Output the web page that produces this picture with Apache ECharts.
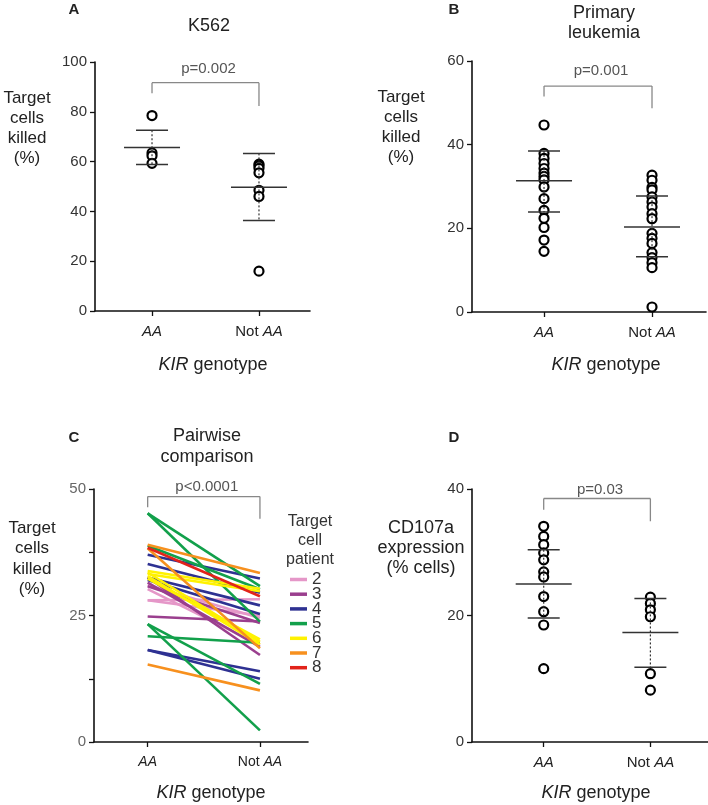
<!DOCTYPE html>
<html>
<head>
<meta charset="utf-8">
<script src="https://cdn.jsdelivr.net/npm/echarts@6/dist/echarts.min.js"></script>
<style>html,body{margin:0;padding:0;background:#fff;}#c{width:708px;height:805px;}</style>
</head>
<body>
<div id="c"></div>
<script>
// ---------- DATA ----------
const groups = ['AA', 'Not AA'];
// Panel A: K562
const aAA = [78.5, 63.5, 62.3, 59.3];
const aNot = [59, 58.3, 57.3, 55.5, 48.5, 46, 16];
const aMean = [65.7, 49.7];
const aUpper = [72.6, 63.3];
const aLower = [58.8, 36.3];
const aTicks = [0, 20, 40, 60, 80, 100];
const aBracket = [91.7, 87.5, 82.3];
const aP = 'p=0.002';
// Panel B: primary leukemia
const bAA = [44.7, 37.9, 36.7, 35.5, 34.3, 33.2, 32.4, 31.6, 29.9, 27.1, 24.3, 22.4, 20.2, 17.2, 14.5];
const bNot = [32.7, 31.5, 29.8, 29.2, 27.5, 26.3, 25.1, 23.5, 22.3, 18.8, 17.6, 16.4, 14.2, 13, 11.8, 10.6, 1.2];
const bMean = [31.4, 20.3];
const bUpper = [38.5, 27.7];
const bLower = [23.9, 13.2];
const bTicks = [0, 20, 40, 60];
const bBracket = [54, 51.5, 48.7];
const bP = 'p=0.001';
// Panel C: pairwise comparison (AA value, Not AA value) per target-cell patient
const cPatients = ['2', '3', '4', '5', '6', '7', '8'];
const c2AA = [31, 30.2, 28, 28];          const c2Not = [24.5, 19.2, 28.2, 25];
const c3AA = [32.5, 31.5, 30.8, 24.8];    const c3Not = [17.2, 18.8, 23.5, 23.8];
const c4AA = [37, 35.2, 32.5, 32, 18.2, 18.2];   const c4Not = [32.3, 29.5, 27, 25.3, 14, 12.5];
const c5AA = [45.2, 45.2, 38.8, 23.3, 23.3, 20.9]; const c5Not = [30.8, 23.8, 30.2, 2.3, 11.5, 19.6];
const c6AA = [33.8, 33.2, 33.5, 32.8, 32.3];     const c6Not = [30.3, 29.8, 19.8, 19.3, 20.3];
const c7AA = [39, 38.3, 15.3];            const c7Not = [33.4, 18.5, 10.2];
const c8AA = [38.4];                      const c8Not = [28.8];
const cTicks = [0, 12.5, 25, 37.5, 50];
const cTickLabels = ['0', '', '25', '', '50'];
const cBracket = [48.5, 46.4, 44.1];
const cP = 'p<0.0001';
// Panel D: CD107a expression
const dAA = [34.1, 32.5, 31.2, 29.9, 28.8, 26.9, 26.1, 23, 20.6, 18.5, 11.6];
const dNot = [22.9, 21.9, 20.9, 19.8, 10.8, 8.2];
const dMean = [25, 17.3];
const dUpper = [30.4, 22.7];
const dLower = [19.6, 11.8];
const dTicks = [0, 20, 40];
const dBracket = [38.5, 36.7, 34.9];
const dP = 'p=0.03';

// ---------- STYLE ----------
const FONT = '"Liberation Sans", Arial, Helvetica, sans-serif';
const patientColors = ['#e597c8', '#9a3f8e', '#2e3192', '#12a04b', '#fff200', '#f7901e', '#e2231a'];

const chart = echarts.init(document.getElementById('c'), null, {renderer: 'canvas'});

const grids = [
  {left: 95, top: 62, width: 215, height: 249},
  {left: 472, top: 61, width: 234, height: 251},
  {left: 94, top: 489, width: 214, height: 253},
  {left: 472, top: 489, width: 236, height: 253}
];
const xRanges = [[-0.533, 1.477], [-0.667, 1.5], [-0.478, 1.428], [-0.672, 1.54]];
const xFont = [15, 15, 14, 15];
const yConf = [
  {ticks: aTicks, labels: aTicks.map(String), color: '#333', size: 15},
  {ticks: bTicks, labels: bTicks.map(String), color: '#333', size: 15},
  {ticks: cTicks, labels: cTickLabels, color: '#666', size: 15},
  {ticks: dTicks, labels: dTicks.map(String), color: '#333', size: 15}
];

const xAxes = grids.map((g, i) => ({
  type: 'value', gridIndex: i, min: xRanges[i][0], max: xRanges[i][1],
  splitLine: {show: false},
  axisLine: {show: true, onZero: false, lineStyle: {color: '#111', width: 1.6}},
  axisTick: {show: true, customValues: [0, 1], length: 5, lineStyle: {color: '#111', width: 1.3}},
  axisLabel: {
    customValues: [0, 1], margin: 13, fontSize: xFont[i], fontFamily: FONT, color: '#222',
    formatter: v => (Math.round(v) === 0 ? '{i|AA}' : 'Not {i|AA}'),
    rich: {i: {fontStyle: 'italic', fontSize: xFont[i], fontFamily: FONT, color: '#222'}}
  }
}));

const yAxes = yConf.map((c, i) => ({
  type: 'value', gridIndex: i, min: c.ticks[0], max: c.ticks[c.ticks.length - 1],
  interval: c.ticks[1] - c.ticks[0],
  splitLine: {show: false},
  axisLine: {show: true, onZero: false, lineStyle: {color: '#111', width: 1.6}},
  axisTick: {show: true, length: 5, lineStyle: {color: '#111', width: 1.3}},
  axisLabel: {
    margin: 8, fontSize: c.size, fontFamily: FONT, color: c.color,
    formatter: v => { const k = c.ticks.indexOf(v); return k >= 0 ? c.labels[k] : ''; }
  }
}));

function scatterSeries(gi, vals, x) {
  return {
    type: 'scatter', xAxisIndex: gi, yAxisIndex: gi, symbol: 'circle', symbolSize: 9,
    itemStyle: {color: '#fff', borderColor: '#000', borderWidth: 2.2, opacity: 1},
    silent: true, z: 3,
    data: vals.map(v => [x, v])
  };
}

function errorSeries(gi, means, uppers, lowers) {
  return {
    type: 'custom', xAxisIndex: gi, yAxisIndex: gi, z: 5, silent: true,
    data: means.map((m, k) => [k, m, uppers[k], lowers[k]]),
    encode: {x: 0, y: 1},
    renderItem: (params, api) => {
      const x = api.value(0);
      const pm = api.coord([x, api.value(1)]);
      const pu = api.coord([x, api.value(2)]);
      const pl = api.coord([x, api.value(3)]);
      const ls = {stroke: '#333', lineWidth: 1.5};
      return {type: 'group', children: [
        {type: 'line', shape: {x1: pu[0], y1: pu[1], x2: pl[0], y2: pl[1]}, style: {stroke: '#333', lineWidth: 1.2, lineDash: [2, 2]}},
        {type: 'line', shape: {x1: pm[0] - 28, y1: pm[1], x2: pm[0] + 28, y2: pm[1]}, style: ls},
        {type: 'line', shape: {x1: pu[0] - 16, y1: pu[1], x2: pu[0] + 16, y2: pu[1]}, style: ls},
        {type: 'line', shape: {x1: pl[0] - 16, y1: pl[1], x2: pl[0] + 16, y2: pl[1]}, style: ls}
      ]};
    }
  };
}

function bracketSeries(gi, br, label, textGap) {
  return {
    type: 'custom', xAxisIndex: gi, yAxisIndex: gi, z: 4, silent: true,
    data: [[0, 1, br[0], br[1], br[2]]],
    encode: {x: 0, y: 2},
    renderItem: (params, api) => {
      const a = api.coord([api.value(0), api.value(2)]);
      const b = api.coord([api.value(1), api.value(2)]);
      const al = api.coord([api.value(0), api.value(3)]);
      const bl = api.coord([api.value(1), api.value(4)]);
      const ls = {stroke: '#888', lineWidth: 1.3};
      return {type: 'group', children: [
        {type: 'line', shape: {x1: a[0], y1: a[1], x2: b[0], y2: b[1]}, style: ls},
        {type: 'line', shape: {x1: a[0], y1: a[1], x2: al[0], y2: al[1]}, style: ls},
        {type: 'line', shape: {x1: b[0], y1: b[1], x2: bl[0], y2: bl[1]}, style: ls},
        {type: 'text', style: {text: label, x: (a[0] + b[0]) / 2 + 3, y: a[1] - textGap,
          textAlign: 'center', textVerticalAlign: 'middle', fontSize: 15, fontFamily: FONT, fill: '#555'}}
      ]};
    }
  };
}

const series = [];
// Panel A
series.push(scatterSeries(0, aAA, 0), scatterSeries(0, aNot, 1));
series.push(errorSeries(0, aMean, aUpper, aLower));
series.push(bracketSeries(0, aBracket, aP, 14));
// Panel B
series.push(scatterSeries(1, bAA, 0), scatterSeries(1, bNot, 1));
series.push(errorSeries(1, bMean, bUpper, bLower));
series.push(bracketSeries(1, bBracket, bP, 15));
// Panel C
const cPairs = [[c2AA, c2Not], [c3AA, c3Not], [c4AA, c4Not], [c5AA, c5Not], [c6AA, c6Not], [c7AA, c7Not], [c8AA, c8Not]];
cPairs.forEach((pair, pi) => {
  pair[0].forEach((v, k) => {
    series.push({
      type: 'line', name: cPatients[pi], xAxisIndex: 2, yAxisIndex: 2,
      symbol: 'none', silent: true, animation: false,
      lineStyle: {color: patientColors[pi], width: 2.6},
      itemStyle: {color: patientColors[pi]},
      data: [[0, v], [1, pair[1][k]]]
    });
  });
});
series.push(bracketSeries(2, cBracket, cP, 10));
// Panel D
series.push(scatterSeries(3, dAA, 0), scatterSeries(3, dNot, 1));
series.push(errorSeries(3, dMean, dUpper, dLower));
series.push(bracketSeries(3, dBracket, dP, 9));

function txt(x, y, text, size, opts) {
  opts = opts || {};
  return {
    type: 'text', x: x, y: y, silent: true,
    style: Object.assign({
      text: text, textAlign: 'center', textVerticalAlign: 'middle',
      fontSize: size, fontFamily: FONT, fill: '#222', lineHeight: opts.lh || size + 2
    }, opts.style || {})
  };
}
const kirRich = {i: {fontStyle: 'italic', fontSize: 18, fontFamily: FONT, fill: '#222'}};

const graphics = [
  txt(74, 10, 'A', 15, {style: {fontWeight: 'bold'}}),
  txt(454, 10, 'B', 15, {style: {fontWeight: 'bold'}}),
  txt(74, 438, 'C', 15, {style: {fontWeight: 'bold'}}),
  txt(454, 438, 'D', 15, {style: {fontWeight: 'bold'}}),
  txt(209, 26, 'K562', 18),
  txt(604, 23.5, 'Primary\nleukemia', 18, {lh: 20}),
  txt(207, 447, 'Pairwise\ncomparison', 18, {lh: 21}),
  txt(27, 128, 'Target\ncells\nkilled\n(%)', 17, {lh: 20}),
  txt(401, 127, 'Target\ncells\nkilled\n(%)', 17, {lh: 20}),
  txt(32, 559, 'Target\ncells\nkilled\n(%)', 17, {lh: 20.5}),
  txt(421, 548, 'CD107a\nexpression\n(% cells)', 18, {lh: 20}),
  txt(213, 365, '{i|KIR} genotype', 18, {style: {rich: kirRich}}),
  txt(606, 365, '{i|KIR} genotype', 18, {style: {rich: kirRich}}),
  txt(211, 793, '{i|KIR} genotype', 18, {style: {rich: kirRich}}),
  txt(596, 793, '{i|KIR} genotype', 18, {style: {rich: kirRich}}),
  txt(310, 541, 'Target\ncell\npatient', 16, {lh: 19, style: {fill: '#333'}})
];

chart.setOption({
  backgroundColor: '#fff',
  animation: false,
  grid: grids,
  xAxis: xAxes,
  yAxis: yAxes,
  legend: {
    data: cPatients, orient: 'vertical', left: 290, top: 571,
    icon: 'rect', itemWidth: 17, itemHeight: 3.5, itemGap: -2.3, selectedMode: false,
    textStyle: {fontSize: 17, lineHeight: 14, fontFamily: FONT, color: '#333', padding: [0, 0, 0, 0]},
    padding: 0
  },
  series: series,
  graphic: graphics
});
</script>
</body>
</html>
